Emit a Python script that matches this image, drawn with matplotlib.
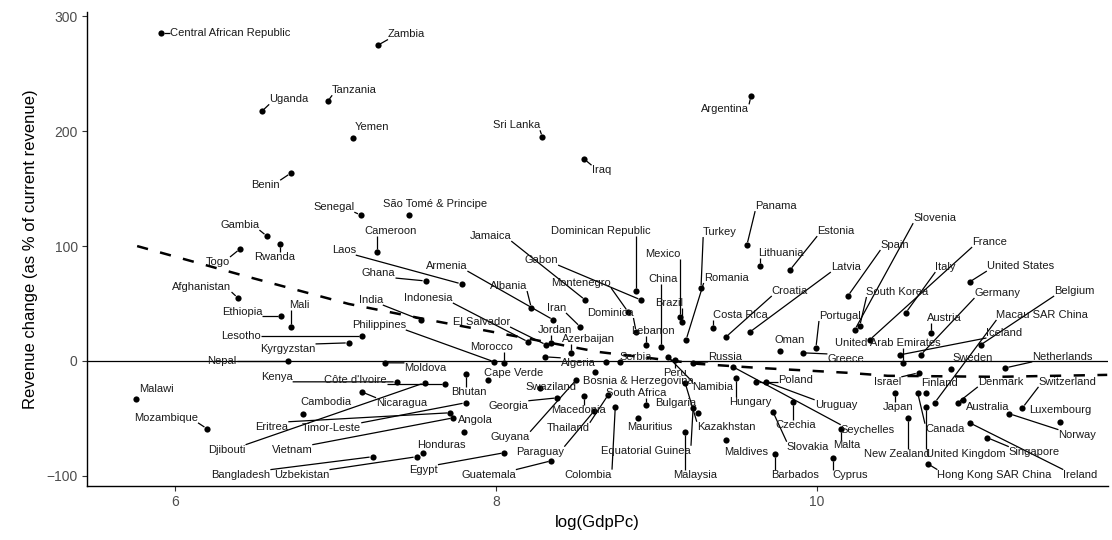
import matplotlib
matplotlib.use("Agg")
import matplotlib.pyplot as plt
import numpy as np

plt.rcParams['font.family'] = ['Liberation Sans', 'DejaVu Sans']

# ---------------- data ----------------
countries = [
    "Central African Republic", "Zambia", "Tanzania", "Uganda", "Yemen", "Sri Lanka", "Iraq", "Argentina",
    "Benin", "Senegal", "São Tomé & Principe", "Cameroon", "Gambia", "Rwanda", "Togo", "Afghanistan",
    "Ethiopia", "Mali", "Lesotho", "Kyrgyzstan", "Nepal", "Malawi", "Mozambique", "Cambodia",
    "Eritrea", "Timor-Leste", "Vietnam", "Djibouti", "Kenya", "Côte d'Ivoire", "Moldova", "Nicaragua",
    "Bhutan", "Angola", "Honduras", "Uzbekistan", "Bangladesh", "Egypt", "Guatemala", "Paraguay",
    "Thailand", "Colombia", "Cape Verde", "Laos", "Ghana", "Albania", "Armenia", "Jamaica",
    "Iran", "India", "Indonesia", "El Salvador", "Philippines", "Morocco", "Jordan", "Azerbaijan",
    "Algeria", "Swaziland", "Bosnia & Herzegovina", "Georgia", "Guyana", "Macedonia", "Serbia", "South Africa",
    "Mauritius", "Bulgaria", "Kazakhstan", "Equatorial Guinea", "Namibia", "Peru", "Malaysia", "Russia",
    "Hungary", "Poland", "Uruguay", "Czechia", "Slovakia", "Maldives", "Barbados", "Seychelles",
    "Malta", "Cyprus", "Oman", "Greece", "Portugal", "Slovenia", "South Korea", "Spain",
    "United Arab Emirates", "France", "Italy", "United States", "Germany", "Iceland", "Austria", "Belgium",
    "Macau SAR China", "Sweden", "Netherlands", "Israel", "Japan", "Finland", "Canada", "United Kingdom",
    "New Zealand", "Denmark", "Australia", "Switzerland", "Norway", "Luxembourg", "Singapore", "Ireland",
    "Hong Kong SAR China", "Panama", "Lithuania", "Estonia", "Turkey", "Mexico", "Brazil", "China",
    "Lebanon", "Dominica", "Dominican Republic", "Gabon", "Montenegro", "Romania", "Costa Rica", "Croatia",
    "Latvia", "",
]

log_gdppc = [
    5.913, 7.262, 6.951, 6.541, 7.107, 8.289, 8.550, 9.588,
    6.721, 7.157, 7.455, 7.256, 6.572, 6.653, 6.404, 6.392,
    6.659, 6.721, 7.163, 7.082, 6.703, 5.757, 6.199, 6.796,
    7.716, 7.810, 7.735, 7.555, 7.381, 7.685, 7.306, 7.163,
    7.816, 7.803, 7.542, 7.505, 7.231, 8.052, 8.345, 8.612,
    8.699, 8.743, 7.947, 7.785, 7.561, 8.220, 8.357, 8.556,
    8.525, 7.530, 8.201, 8.313, 7.990, 8.052, 8.345, 8.469,
    8.307, 8.276, 8.618, 8.382, 8.500, 8.550, 8.774, 8.935,
    8.886, 9.259, 9.178, 9.228, 9.072, 9.116, 9.178, 9.228,
    9.495, 9.619, 9.682, 9.849, 9.725, 9.433, 9.738, 9.476,
    10.148, 10.098, 9.769, 9.912, 9.993, 10.235, 10.266, 10.192,
    10.534, 10.328, 10.552, 10.950, 10.646, 10.515, 10.708, 11.019,
    10.733, 10.832, 11.174, 10.633, 10.484, 10.677, 10.627, 10.677,
    10.565, 10.876, 10.907, 11.280, 11.199, 11.516, 11.062, 10.950,
    10.689, 9.563, 9.644, 9.831, 9.277, 9.147, 9.159, 9.029,
    8.935, 8.873, 8.873, 8.904, 8.823, 9.184, 9.352, 9.433,
    9.582, 8.687,
]

revenue_change = [
    285.2, 274.8, 226.1, 217.4, 193.9, 194.8, 175.7, 230.4,
    163.5, 127.0, 127.0, 94.8, 108.7, 101.7, 97.4, 54.8,
    39.1, 29.6, 21.7, 15.7, 0.0, -33.0, -59.1, -46.1,
    -45.2, -36.5, -49.6, -19.1, -18.3, -20.0, -1.7, -27.0,
    -11.3, -61.7, -80.0, -83.5, -83.5, -80.0, -87.0, -43.5,
    -29.6, -40.0, -16.5, 67.0, 69.6, 46.1, 35.7, 53.0,
    29.6, 35.7, 16.5, 13.9, -0.9, -1.7, 15.7, 7.0,
    3.5, -23.5, -9.6, -32.2, -16.5, -30.4, -0.9, -38.3,
    -49.6, -45.2, -19.1, -40.9, 3.5, 0.9, -61.7, -1.7,
    -14.8, -18.3, -18.3, -35.7, -44.3, -68.7, -80.9, -5.2,
    -59.1, -84.3, 8.7, 7.0, 11.3, 27.0, 30.4, 56.5,
    -1.7, 18.3, 41.7, 68.7, 5.2, 5.2, 24.3, 13.9,
    -36.5, -7.0, -6.1, -10.4, -27.8, -27.8, -27.8, -40.0,
    -49.6, -36.5, -33.9, -40.9, -46.1, -53.0, -67.0, -53.9,
    -89.6, 100.9, 82.6, 79.1, 63.5, 38.3, 33.9, 12.2,
    13.9, 25.2, 60.9, 53.0, 42.6, 18.3, 28.7, 20.9,
    25.2, -0.9,
]

# smoothed trend
smooth_x = [5.764, 6.460, 7.082, 7.580, 8.015, 8.637, 9.259, 9.632, 10.192, 10.440, 11.124, 11.808]
smooth_y = [100.0, 73.0, 49.6, 35.7, 24.3, 7.8, -2.6, -6.1, -10.4, -13.0, -13.9, -12.2]

# ---------------- label layout (repelled positions) ----------------
label_x = [
    6.342, 7.443, 7.119, 6.709, 7.225, 8.127, 8.655, 9.427,
    6.566, 6.989, 7.623, 7.343, 6.404, 6.622, 6.267, 6.168,
    6.417, 6.777, 6.410, 6.703, 6.292, 5.882, 5.944, 6.939,
    6.603, 6.976, 6.728, 6.323, 6.634, 7.126, 7.561, 7.412,
    7.828, 7.872, 7.660, 6.790, 6.410, 7.549, 7.953, 8.276,
    8.450, 8.575, 8.108, 7.051, 7.269, 8.077, 7.692, 7.965,
    8.376, 7.219, 7.580, 7.909, 7.269, 7.971, 8.369, 8.575,
    8.512, 8.345, 8.886, 8.077, 8.090, 8.512, 8.873, 8.873,
    8.960, 9.122, 9.433, 8.935, 9.352, 9.116, 9.240, 9.427,
    9.582, 9.868, 10.117, 9.868, 9.943, 9.557, 9.862, 10.316,
    10.185, 10.204, 9.831, 10.179, 10.142, 10.733, 10.502, 10.484,
    10.440, 11.075, 10.801, 11.267, 11.124, 11.168, 10.795, 11.603,
    11.404, 10.969, 11.529, 10.440, 10.502, 10.764, 10.795, 10.925,
    10.495, 11.143, 11.062, 11.560, 11.622, 11.516, 11.354, 11.641,
    11.106, 9.744, 9.775, 10.117, 9.396, 9.041, 9.078, 9.041,
    8.979, 8.711, 8.655, 8.282, 8.531, 9.433, 9.520, 9.831,
    10.179, 8.687,
]
label_y = [
    285.2, 284.3, 235.7, 227.8, 203.5, 205.2, 166.1, 219.1,
    153.0, 133.9, 136.5, 113.0, 118.3, 90.4, 86.1, 64.3,
    42.6, 48.7, 21.7, 10.4, 0.0, -24.3, -49.6, -35.7,
    -57.4, -58.3, -77.4, -77.4, -13.9, -16.5, -6.1, -36.5,
    -27.0, -51.3, -73.0, -99.1, -99.1, -94.8, -99.1, -79.1,
    -58.3, -99.1, -10.4, 96.5, 76.5, 65.2, 82.6, 108.7,
    46.1, 53.0, 54.8, 33.9, 31.3, 12.2, 27.0, 19.1,
    -1.7, -22.6, -17.4, -39.1, -66.1, -42.6, 3.5, -27.8,
    -57.4, -36.5, -57.4, -78.3, -22.6, -10.4, -99.1, 3.5,
    -35.7, -16.5, -38.3, -55.7, -74.8, -79.1, -99.1, -60.0,
    -73.5, -99.1, 18.3, 1.7, 39.1, 124.3, 60.0, 100.9,
    15.7, 103.5, 81.7, 82.6, 59.1, 24.3, 37.4, 60.9,
    40.0, 2.6, 3.5, -18.3, -40.0, -19.1, -59.1, -80.9,
    -81.5, -18.3, -40.0, -18.3, -64.3, -42.6, -79.1, -99.1,
    -99.1, 134.8, 93.9, 113.0, 112.2, 93.0, 50.4, 71.3,
    26.1, 41.7, 113.0, 87.8, 67.8, 72.2, 40.0, 60.9,
    81.7, -0.9,
]

# ---------------- plot ----------------
fig = plt.figure(figsize=(11.12, 5.40), dpi=100)
ax = fig.add_axes([0.078, 0.100, 0.918, 0.878])

ax.axhline(0, color='black', lw=0.9, zorder=1)
ax.plot(smooth_x, smooth_y, color='black', lw=1.8, dashes=(4.5, 5.0), zorder=2)
ax.scatter(log_gdppc, revenue_change, s=20, color='black', linewidths=0, zorder=4)

texts = []
for name, lx, ly in zip(countries, label_x, label_y):
    if not name:
        texts.append(None)
        continue
    texts.append(ax.text(lx, ly, name, ha='center', va='center', fontsize=8,
                         color='#1a1a1a', zorder=5))

ax.set_xlim(5.45, 11.81)
ax.set_ylim(-109, 304)
ax.set_xticks([6, 8, 10])
ax.set_yticks([-100, 0, 100, 200, 300])
for s in ['top', 'right']:
    ax.spines[s].set_visible(False)
for s in ['left', 'bottom']:
    ax.spines[s].set_linewidth(1.0)
    ax.spines[s].set_color('black')
ax.tick_params(axis='both', length=3.5, width=0.8, color='#333333',
               labelsize=10, labelcolor='#4d4d4d', pad=3)
ax.set_xlabel('log(GdpPc)', fontsize=12, color='black', labelpad=4)
ax.set_ylabel('Revenue change (as % of current revenue)', fontsize=12, color='black', labelpad=6)

# leader segments from labels to points (ggrepel style)
fig.canvas.draw()
renderer = fig.canvas.get_renderer()
inv = ax.transData.inverted()
for t, x, y in zip(texts, log_gdppc, revenue_change):
    if t is None:
        continue
    bb = t.get_window_extent(renderer)
    px, py = ax.transData.transform((x, y))
    cx = min(max(px, bb.x0), bb.x1)
    cy = min(max(py, bb.y0), bb.y1)
    d = np.hypot(px - cx, py - cy)
    if d > 7:
        f = (d - 3) / d
        ex, ey = cx + (px - cx) * f, cy + (py - cy) * f
        seg = inv.transform([[cx, cy], [ex, ey]])
        ax.plot(seg[:, 0], seg[:, 1], color='black', lw=0.9, zorder=3,
                solid_capstyle='butt')

fig.savefig('out.png', dpi=100)
